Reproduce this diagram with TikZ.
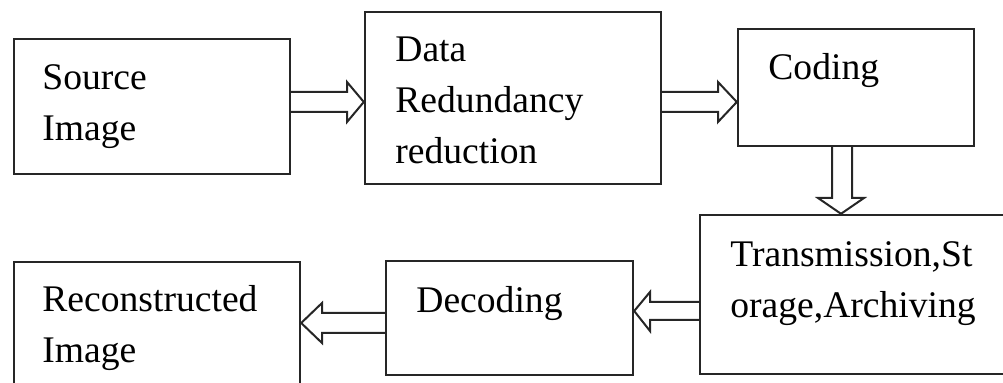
\documentclass[tikz,border=0pt]{standalone}
\usepackage{fontspec}
\setmainfont{Liberation Serif}
\begin{document}
\begin{tikzpicture}[x=0.5pt,y=-0.5pt,
    blk/.style={draw=black!85,line width=1.2pt,inner sep=0pt},
    lbl/.style={anchor=base west,align=left,inner sep=0pt,
      font=\fontsize{18.8}{25.5}\selectfont},
    barrow/.style={draw=black!85,line width=1pt,line join=miter}]
  \clip (0,0) rectangle (1003,383);
  % the boxes
  \node[blk,minimum width=138pt,minimum height=67.5pt] (src) at (152,106.5) {};
  \node[blk,minimum width=148pt,minimum height=86pt] (red) at (513,98) {};
  \node[blk,minimum width=118pt,minimum height=58.5pt] (cod) at (856,87.5) {};
  \node[blk,minimum width=156pt,minimum height=79.5pt] (trn) at (856,294.5) {};
  \node[blk,minimum width=123.5pt,minimum height=57pt] (dec) at (509.5,318) {};
  \node[blk,minimum width=143pt,minimum height=67pt] (rec) at (157,329) {};
  % the texts (base = last line)
  \node[lbl] (srcT) at (42,141) {Source\\Image};
  \node[lbl] (redT) at (395,164) {Data\\Redundancy\\reduction};
  \node[lbl] (codT) at (768,80) {Coding};
  \node[lbl] (trnT) at (730,318) {Transmission,St\\orage,Archiving};
  \node[lbl] (decT) at (416,313) {Decoding};
  \node[lbl] (recT) at (42,363) {Reconstructed\\Image};
  % the block arrows
  \draw[barrow] (src.east |- 0,92) -- (347,92) -- (347,82) -- (red.west |- 0,102)
    -- (347,122) -- (347,112) -- (src.east |- 0,112);
  \draw[barrow] (red.east |- 0,92) -- (718,92) -- (718,82) -- (cod.west |- 0,102)
    -- (718,122) -- (718,112) -- (red.east |- 0,112);
  \draw[barrow] (cod.south -| 832,0) -- (832,198) -- (818,198) -- (trn.north -| 841,0)
    -- (864,198) -- (852,198) -- (cod.south -| 852,0);
  \draw[barrow] (trn.west |- 0,302) -- (650,302) -- (650,292) -- (dec.east |- 0,311)
    -- (650,331) -- (650,320) -- (trn.west |- 0,320);
  \draw[barrow] (dec.west |- 0,313) -- (322,313) -- (322,303) -- (rec.east |- 0,323)
    -- (322,343) -- (322,333) -- (dec.west |- 0,333);
\end{tikzpicture}
\end{document}
